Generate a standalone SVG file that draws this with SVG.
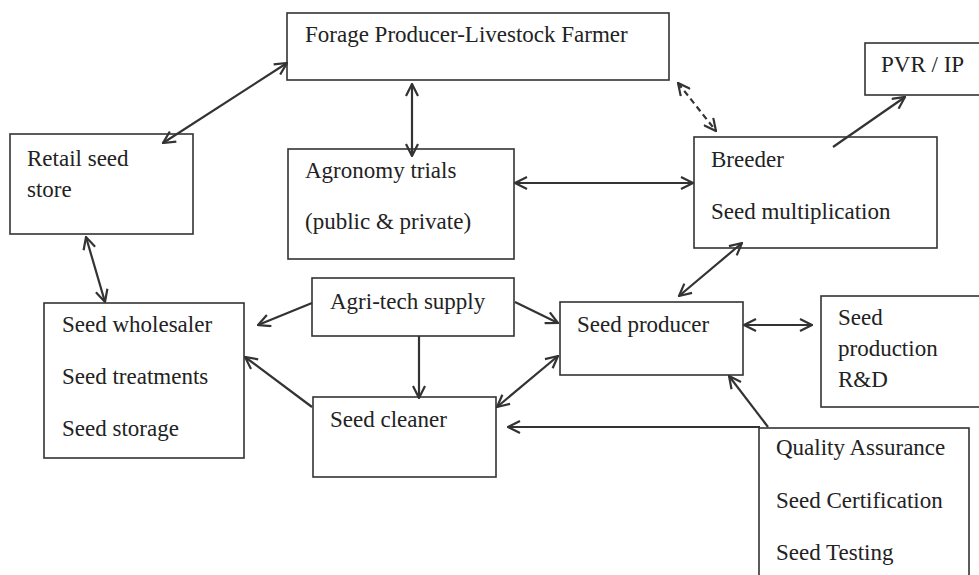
<svg xmlns="http://www.w3.org/2000/svg" width="979" height="575" viewBox="0 0 979 575">
<style>
.box{fill:#fff;stroke:#333;stroke-width:1.6}
.t{font-family:"Liberation Serif","Times New Roman",serif;font-size:23px;fill:#222}
.c{fill:none;stroke:#333;stroke-width:2.2}
.d{stroke-dasharray:6 4}
</style>
<defs>
<marker id="ah" viewBox="0 0 14 14" refX="13" refY="7" markerWidth="14" markerHeight="14" markerUnits="userSpaceOnUse" orient="auto-start-reverse">
<path d="M1,1 L13,7 L1,13" fill="none" stroke="#333" stroke-width="2.2"/>
</marker>
</defs>
<rect width="979" height="575" fill="#fff"/>
<g id="forage"><rect class="box" x="287" y="13" width="382" height="67"/><text class="t" x="305" y="42">Forage Producer-Livestock Farmer</text></g>
<g id="retail"><rect class="box" x="10" y="134" width="183" height="100"/><text class="t" x="27" y="166">Retail seed</text><text class="t" x="27" y="197">store</text></g>
<g id="agronomy"><rect class="box" x="288" y="149" width="226" height="110"/><text class="t" x="305" y="178">Agronomy trials</text><text class="t" x="305" y="229">(public &amp; private)</text></g>
<g id="breeder"><rect class="box" x="694" y="137" width="243" height="111"/><text class="t" x="711" y="167">Breeder</text><text class="t" x="711" y="219">Seed multiplication</text></g>
<g id="pvr"><rect class="box" x="865" y="43" width="120" height="52"/><text class="t" x="881" y="72">PVR / IP</text></g>
<g id="wholesaler"><rect class="box" x="44" y="303" width="200" height="155"/><text class="t" x="62" y="332">Seed wholesaler</text><text class="t" x="62" y="384">Seed treatments</text><text class="t" x="62" y="436">Seed storage</text></g>
<g id="agritech"><rect class="box" x="312" y="278" width="202" height="58"/><text class="t" x="330" y="309">Agri-tech supply</text></g>
<g id="cleaner"><rect class="box" x="313" y="397" width="183" height="80"/><text class="t" x="330" y="427">Seed cleaner</text></g>
<g id="producer"><rect class="box" x="560" y="302" width="183" height="73"/><text class="t" x="577" y="332">Seed producer</text></g>
<g id="rnd"><rect class="box" x="821" y="296" width="170" height="111"/><text class="t" x="838" y="325">Seed</text><text class="t" x="838" y="356">production</text><text class="t" x="838" y="387">R&amp;D</text></g>
<g id="quality"><rect class="box" x="759" y="428" width="210" height="160"/><text class="t" x="776" y="455">Quality Assurance</text><text class="t" x="776" y="508">Seed Certification</text><text class="t" x="776" y="560">Seed Testing</text></g>
<g id="connectors">
<line class="c" x1="287" y1="63" x2="163" y2="143" marker-start="url(#ah)" marker-end="url(#ah)"/>
<line class="c" x1="412" y1="84" x2="412" y2="156" marker-start="url(#ah)" marker-end="url(#ah)"/>
<line class="c d" x1="678" y1="83" x2="716" y2="131" marker-start="url(#ah)" marker-end="url(#ah)"/>
<line class="c" x1="515" y1="183" x2="693" y2="183" marker-start="url(#ah)" marker-end="url(#ah)"/>
<line class="c" x1="833" y1="147" x2="905" y2="97" marker-end="url(#ah)"/>
<line class="c" x1="742" y1="243" x2="679" y2="296" marker-start="url(#ah)" marker-end="url(#ah)"/>
<line class="c" x1="86" y1="237" x2="105" y2="302" marker-start="url(#ah)" marker-end="url(#ah)"/>
<line class="c" x1="312" y1="303" x2="258" y2="325" marker-end="url(#ah)"/>
<line class="c" x1="419" y1="336" x2="419" y2="398" marker-end="url(#ah)"/>
<line class="c" x1="515" y1="302" x2="558" y2="323" marker-end="url(#ah)"/>
<line class="c" x1="312" y1="407" x2="245" y2="357" marker-end="url(#ah)"/>
<line class="c" x1="497" y1="407" x2="558" y2="356" marker-start="url(#ah)" marker-end="url(#ah)"/>
<line class="c" x1="744" y1="325" x2="812" y2="325" marker-start="url(#ah)" marker-end="url(#ah)"/>
<line class="c" x1="768" y1="427" x2="729" y2="376" marker-end="url(#ah)"/>
<line class="c" x1="760" y1="427" x2="508" y2="427" marker-end="url(#ah)"/>
</g>
</svg>
